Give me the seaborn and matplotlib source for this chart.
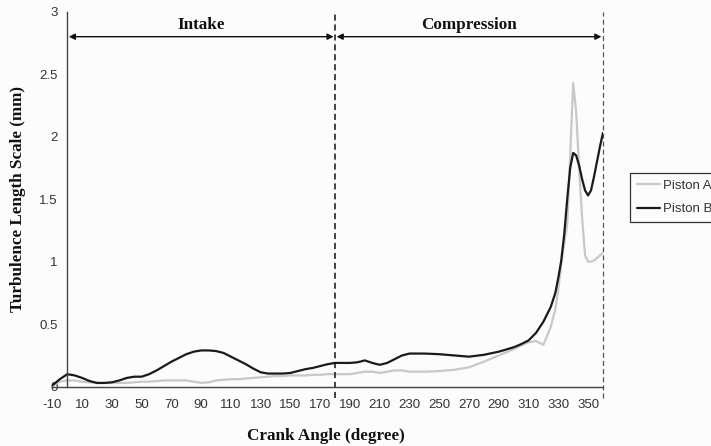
import matplotlib
matplotlib.use("Agg")
import matplotlib.pyplot as plt
import seaborn as sns
import pandas as pd

angles = [-10, -5, 0, 5, 10, 15, 20, 25, 30, 35, 40, 45, 50, 55, 60, 65, 70, 75, 80, 85,
          90, 95, 100, 105, 110, 115, 120, 125, 130, 135, 140, 145, 150, 155, 160, 165,
          170, 175, 180, 185, 190, 195, 200, 205, 210, 215, 220, 225, 230, 240, 250, 260,
          270, 280, 290, 300, 305, 310, 315, 320, 325, 328, 330, 332, 334, 336, 338, 340,
          342, 344, 346, 348, 350, 352, 354, 356, 358, 360]

piston_a = [0.01, 0.04, 0.05, 0.05, 0.04, 0.035, 0.03, 0.03, 0.03, 0.03, 0.03, 0.035, 0.04, 0.04,
            0.045, 0.05, 0.05, 0.05, 0.05, 0.04, 0.03, 0.035, 0.05, 0.055, 0.06, 0.06, 0.065, 0.07,
            0.075, 0.08, 0.085, 0.085, 0.09, 0.09, 0.09, 0.095, 0.095, 0.10, 0.10, 0.10, 0.10, 0.11,
            0.12, 0.12, 0.11, 0.12, 0.13, 0.13, 0.12, 0.12, 0.125, 0.135, 0.155, 0.20, 0.25, 0.30,
            0.33, 0.355, 0.365, 0.335, 0.48, 0.62, 0.78, 0.98, 1.15, 1.30, 1.85, 2.43,
            2.20, 1.75, 1.35, 1.05, 1.00, 1.00, 1.01, 1.03, 1.05, 1.07]

piston_b = [0.01, 0.06, 0.10, 0.09, 0.07, 0.045, 0.03, 0.03, 0.035, 0.05, 0.07, 0.08, 0.08, 0.10,
            0.13, 0.165, 0.20, 0.23, 0.26, 0.28, 0.29, 0.29, 0.285, 0.27, 0.24, 0.21, 0.18, 0.145,
            0.115, 0.105, 0.105, 0.105, 0.11, 0.125, 0.14, 0.15, 0.165, 0.18, 0.19, 0.19, 0.19, 0.195,
            0.21, 0.19, 0.175, 0.19, 0.22, 0.25, 0.265, 0.265, 0.26, 0.25, 0.24, 0.255, 0.28, 0.315,
            0.34, 0.37, 0.43, 0.52, 0.64, 0.75, 0.87, 1.01, 1.22, 1.50, 1.75, 1.87,
            1.85, 1.77, 1.66, 1.57, 1.53, 1.57, 1.68, 1.80, 1.92, 2.03]

series_names = ["Piston A", "Piston B"]
series_colors = ["#c8c8c8", "#1a1a1a"]
x_ticks = list(range(-10, 360, 20))
y_ticks = [0, 0.5, 1, 1.5, 2, 2.5, 3]
y_tick_labels = ["0", "0.5", "1", "1.5", "2", "2.5", "3"]
phase_names = ["Intake", "Compression"]
phase_bounds = [0, 180, 360]

df = pd.DataFrame({
    "angle": angles * 2,
    "value": piston_a + piston_b,
    "series": [series_names[0]] * len(angles) + [series_names[1]] * len(angles),
})

sns.set_style("white")
plt.rcParams["font.family"] = ["Liberation Sans", "DejaVu Sans"]

fig = plt.figure(figsize=(7.11, 4.46), dpi=100, facecolor="#fcfcfc")
ax = fig.add_axes([0.0737, 0.133, 0.7743, 0.8408])
ax.set_facecolor("#fcfcfc")

sns.lineplot(data=df, x="angle", y="value", hue="series", palette=series_colors,
             linewidth=1.6, ax=ax, legend=False, sort=False)

ax.set_xlim(-10, 360)
ax.set_ylim(0, 3)
for s in ["top", "right"]:
    ax.spines[s].set_visible(False)
ax.spines["left"].set_position(("data", 0))
ax.spines["left"].set_color("#444444")
ax.spines["bottom"].set_color("#444444")
ax.spines["left"].set_linewidth(1.0)
ax.spines["bottom"].set_linewidth(1.0)

ax.set_xticks(x_ticks)
ax.set_xticklabels([str(t) for t in x_ticks])
ax.set_yticks(y_ticks)
ax.set_yticklabels(y_tick_labels)
ax.tick_params(axis="x", direction="inout", length=6, width=0.9, colors="#444444",
               labelcolor="#333333", labelsize=9.5, pad=6)
ax.tick_params(axis="y", direction="out", length=4, width=0.9, colors="#444444",
               labelcolor="#333333", labelsize=9.5, pad=3)

serif = ["Liberation Serif", "DejaVu Serif"]
ax.set_xlabel("Crank Angle (degree)", fontfamily=serif, fontweight="bold", fontsize=12.3,
              color="#111111")
ax.set_ylabel("Turbulence Length Scale (mm)", fontfamily=serif, fontweight="bold", fontsize=12.3,
              color="#111111")
ax.yaxis.set_label_coords(-0.048, 0.5)
ax.xaxis.set_label_coords(0.497, -0.11)

# phase boundary dashed lines
ax.plot([phase_bounds[1]] * 2, [-0.09, 3.0], ls=(0, (4, 2.5)), color="#111111", lw=1.1, clip_on=False)
ax.plot([phase_bounds[2]] * 2, [-0.09, 3.0], ls=(0, (4, 2.5)), color="#555555", lw=0.9, clip_on=False)

# phase arrows and labels
for i, name in enumerate(phase_names):
    x0, x1 = phase_bounds[i], phase_bounds[i + 1]
    ax.annotate("", xy=(x1 - 1, 2.8), xytext=(x0 + 1, 2.8),
                arrowprops=dict(arrowstyle="<|-|>", color="#111111", lw=1.0,
                                mutation_scale=9, shrinkA=0, shrinkB=0))
    ax.text((x0 + x1) / 2, 2.89, name, ha="center", va="center", fontfamily=serif,
            fontweight="bold", fontsize=12.3, color="#111111")

handles = [plt.Line2D([], [], color=c, lw=1.6) for c in series_colors]
leg = fig.legend(handles, series_names, loc="upper left", bbox_to_anchor=(0.886, 0.612),
                 frameon=True, fancybox=False, framealpha=1, edgecolor="#333333",
                 fontsize=9.5, handlelength=1.8, handletextpad=0.2, borderpad=0.5,
                 labelspacing=0.85, borderaxespad=0)
leg.get_frame().set_linewidth(0.9)
leg.get_frame().set_facecolor("#fcfcfc")
for t in leg.get_texts():
    t.set_color("#333333")

fig.savefig("out.png", dpi=100, facecolor=fig.get_facecolor())
